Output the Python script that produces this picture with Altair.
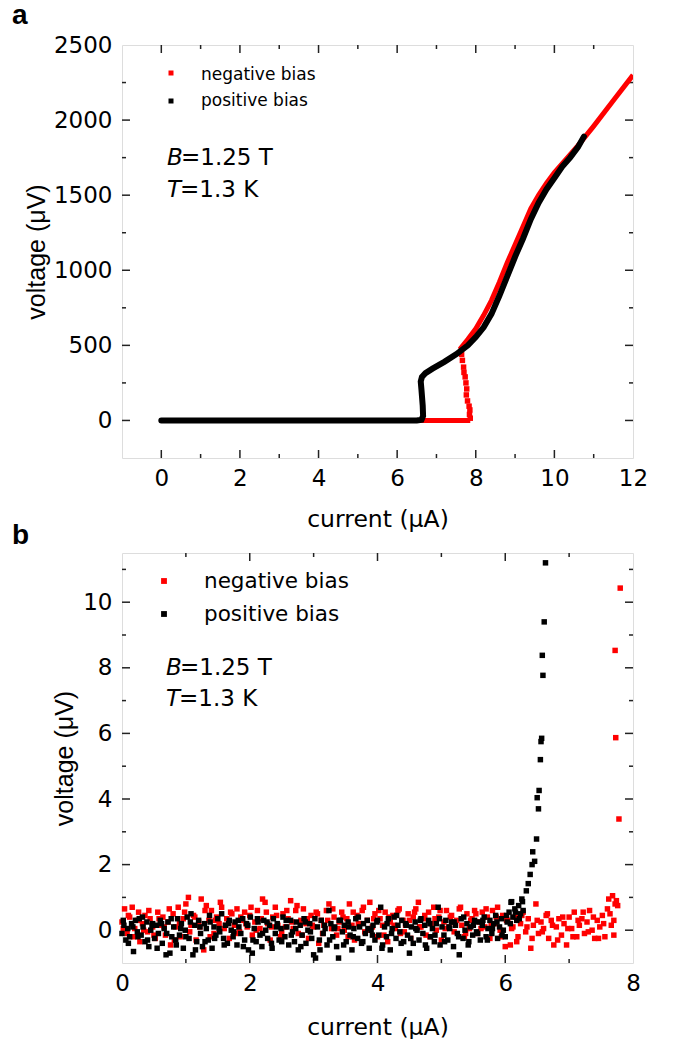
import altair as alt
import pandas as pd

FONT = "DejaVu Sans"
FONT_Y = "Liberation Sans"
RED = "#ff0000"
BLACK = "#000000"
FRAME = "#222222"

# ---------------- panel a data ----------------
a_neg_flat_x = [0.0, 7.86]
a_neg_flat_y = [0, 0]
a_neg_jump_x = [7.63, 7.64, 7.66, 7.69, 7.70, 7.73, 7.75, 7.77, 7.76, 7.79, 7.83, 7.85, 7.84, 7.86]
a_neg_jump_y = [470, 440, 400, 355, 320, 290, 250, 210, 170, 130, 95, 70, 40, 15]
a_neg_curve_x = [7.60, 7.80, 8.00, 8.20, 8.40, 8.60, 8.80, 9.00, 9.20, 9.40, 9.60, 9.80,
                 10.00, 10.30, 10.60, 11.00, 11.50, 12.00]
a_neg_curve_y = [475, 540, 610, 700, 800, 920, 1050, 1170, 1290, 1410, 1500, 1580,
                 1650, 1740, 1830, 1960, 2130, 2300]
a_pos_x = [0.0, 6.50, 6.62, 6.66, 6.65, 6.62, 6.60, 6.63, 6.72, 6.90, 7.20, 7.50, 7.80,
           8.00, 8.20, 8.40, 8.60, 8.80, 9.00, 9.20, 9.40, 9.60, 9.80, 10.00, 10.20,
           10.40, 10.60, 10.75]
a_pos_y = [0, 0, 5, 30, 100, 200, 260, 290, 315, 345, 390, 440, 500,
           555, 620, 710, 830, 960, 1090, 1210, 1340, 1450, 1540, 1615, 1690,
           1750, 1820, 1890]

# ---------------- panel b data ----------------
b_pos_x = [0.00, 0.03, 0.06, 0.09, 0.12, 0.15, 0.18, 0.21, 0.24, 0.27, 0.30, 0.33, 0.36, 0.39,
           0.42, 0.45, 0.48, 0.51, 0.54, 0.57, 0.60, 0.63, 0.66, 0.69, 0.72, 0.75, 0.78, 0.81,
           0.84, 0.87, 0.90, 0.93, 0.96, 0.99, 1.02, 1.05, 1.08, 1.11, 1.14, 1.17, 1.20, 1.23,
           1.26, 1.29, 1.32, 1.35, 1.38, 1.41, 1.44, 1.47, 1.50, 1.53, 1.56, 1.59, 1.62, 1.65,
           1.68, 1.71, 1.74, 1.77, 1.80, 1.83, 1.86, 1.89, 1.92, 1.95, 1.98, 2.01, 2.04, 2.07,
           2.10, 2.13, 2.16, 2.19, 2.22, 2.25, 2.28, 2.31, 2.34, 2.37, 2.40, 2.43, 2.46, 2.49,
           2.52, 2.55, 2.58, 2.61, 2.64, 2.67, 2.70, 2.73, 2.76, 2.79, 2.82, 2.85, 2.88, 2.91,
           2.94, 2.97, 3.00, 3.03, 3.06, 3.09, 3.12, 3.15, 3.18, 3.21, 3.24, 3.27, 3.30, 3.33,
           3.36, 3.39, 3.42, 3.45, 3.48, 3.51, 3.54, 3.57, 3.60, 3.63, 3.66, 3.69, 3.72, 3.75,
           3.78, 3.81, 3.84, 3.87, 3.90, 3.93, 3.96, 3.99, 4.02, 4.05, 4.08, 4.11, 4.14, 4.17,
           4.20, 4.23, 4.26, 4.29, 4.32, 4.35, 4.38, 4.41, 4.44, 4.47, 4.50, 4.53, 4.56, 4.59,
           4.62, 4.65, 4.68, 4.71, 4.74, 4.77, 4.80, 4.83, 4.86, 4.89, 4.92, 4.95, 4.98, 5.01,
           5.04, 5.07, 5.10, 5.13, 5.16, 5.19, 5.22, 5.25, 5.28, 5.31, 5.34, 5.37, 5.40, 5.43,
           5.46, 5.49, 5.52, 5.55, 5.58, 5.61, 5.64, 5.67, 5.70, 5.73, 5.76, 5.79, 5.82, 5.85,
           5.88, 5.91, 5.94, 5.97, 6.00, 6.03, 6.06, 6.09, 6.12, 6.15, 6.18, 6.21, 6.24, 6.26,
           6.28, 6.10, 6.27, 6.33, 6.36, 6.39, 6.42, 6.46, 6.43, 6.49, 6.52, 6.50, 6.53, 6.55,
           6.56, 6.57, 6.59, 6.58, 6.61, 6.63]
b_pos_y = [-0.10, 0.15, -0.30, 0.05, -0.20, 0.20, -0.65, 0.30, -0.05, 0.35, -0.15, 0.10, -0.35, 0.25,
           -0.50, 0.00, 0.20, -0.25, 0.15, -0.10, 0.30, -0.40, 0.05, -0.75, 0.25, -0.70, -0.20, 0.10,
           -0.30, 0.35, -0.15, 0.20, -0.55, 0.00, 0.40, -0.25, 0.50, -0.75, 0.15, -0.35, 0.30, -0.10,
           -0.50, 0.20, 0.05, -0.30, 0.25, -0.55, 0.10, -0.15, 0.35, -0.05, 0.50, -0.25, 0.15, -0.40,
           0.30, 0.00, -0.20, 0.25, -0.45, 0.10, -0.10, 0.35, -0.30, 0.20, -0.60, 0.40, -0.70, 0.05,
           -0.35, 0.25, -0.15, -0.50, 0.30, 0.00, -0.25, 0.15, -0.40, 0.35, -0.10, 0.20, -0.30, 0.05,
           0.40, -0.20, 0.10, -0.45, 0.30, -0.05, -0.35, 0.25, -0.60, 0.15, -0.15, 0.35, -0.40, 0.00,
           0.20, -0.25, -0.75, -0.85, 0.10, -0.30, 0.30, -0.10, 0.05, -0.45, 0.60, 0.20, -0.20, 0.10,
           -0.50, -0.85, 0.30, -0.05, 0.15, -0.35, 0.25, -0.15, -0.60, 0.05, 0.35, -0.25, 0.10, -0.40,
           0.20, -0.10, 0.30, -0.55, 0.00, 0.15, -0.30, 0.25, -0.15, 0.70, -0.45, 0.10, -0.20, 0.35,
           -0.60, 0.05, 0.40, -0.25, 0.15, -0.05, 0.30, -0.35, 0.20, -0.15, -0.70, 0.10, -0.40, 0.25,
           0.00, -0.30, 0.35, -0.10, 0.15, -0.55, 0.30, -0.20, 0.05, -0.35, 0.20, 0.70, -0.45, 0.10,
           -0.15, 0.30, -0.30, 0.05, 0.25, -0.50, 0.15, -0.10, -0.75, 0.35, -0.25, 0.00, 0.20, -0.35,
           0.10, -0.15, 0.30, -0.05, 0.25, -0.30, 0.15, 0.40, -0.20, 0.05, 0.30, -0.10, 0.20, 0.45,
           -0.25, 0.10, 0.35, 0.00, -0.20, 0.25, 0.55, 0.85, 0.40, 0.65, 0.30, 0.75, 0.50, 0.95,
           0.60, 0.87, 0.87, 1.20, 1.42, 1.70, 2.00, 2.10, 2.39, 2.78, 3.70, 4.04, 4.26, 5.20,
           5.75, 5.85, 7.77, 8.38, 9.40, 11.20]
b_pos_x2 = [0.02, 0.10, 0.17, 0.25, 0.32, 0.40, 0.47, 0.55, 0.62, 0.70, 0.77, 0.85, 0.92, 1.00,
            1.07, 1.15, 1.22, 1.30, 1.37, 1.45, 1.52, 1.60, 1.67, 1.75, 1.82, 1.90, 1.97, 2.05,
            2.12, 2.20, 2.27, 2.35, 2.42, 2.50, 2.57, 2.65, 2.72, 2.80, 2.87, 2.95, 3.02, 3.10,
            3.17, 3.25, 3.32, 3.40, 3.47, 3.55, 3.62, 3.70, 3.77, 3.85, 3.92, 4.00, 4.07, 4.15,
            4.22, 4.30, 4.37, 4.45, 4.52, 4.60, 4.67, 4.75, 4.82, 4.90, 4.97, 5.05, 5.12, 5.20,
            5.27, 5.35, 5.42, 5.50, 5.57, 5.65, 5.72, 5.80, 5.87, 5.95, 6.02, 6.08, 6.16, 6.22]
b_pos_y2 = [0.30, -0.40, 0.10, -0.20, 0.40, -0.30, 0.15, -0.55, 0.20, -0.10, 0.35, -0.45, 0.05, -0.20,
            0.25, -0.60, 0.10, -0.35, 0.45, -0.25, 0.05, -0.45, 0.20, -0.05, 0.30, -0.50, 0.15, -0.30,
            0.35, -0.10, 0.25, -0.55, 0.10, -0.35, 0.30, -0.15, 0.05, -0.50, 0.25, -0.05, 0.35, -0.60,
            0.15, -0.30, 0.05, 0.30, -0.45, 0.10, -0.20, 0.40, -0.35, 0.05, -0.15, 0.30, -0.55, 0.20,
            -0.10, 0.45, -0.40, 0.15, -0.25, 0.05, 0.30, -0.45, 0.20, -0.15, 0.35, -0.35, 0.10, 0.25,
            -0.20, 0.40, -0.45, 0.15, -0.10, 0.30, -0.30, 0.05, 0.25, -0.15, 0.45, 0.20, 0.55, 0.35]

b_neg_x = [0.00, 0.04, 0.08, 0.12, 0.16, 0.20, 0.24, 0.28, 0.32, 0.36, 0.40, 0.44, 0.48, 0.52,
           0.56, 0.60, 0.64, 0.68, 0.72, 0.76, 0.80, 0.84, 0.88, 0.92, 0.96, 1.00, 1.04, 1.08,
           1.12, 1.16, 1.20, 1.24, 1.28, 1.32, 1.36, 1.40, 1.44, 1.48, 1.52, 1.56, 1.60, 1.64,
           1.68, 1.72, 1.76, 1.80, 1.84, 1.88, 1.92, 1.96, 2.00, 2.04, 2.08, 2.12, 2.16, 2.20,
           2.24, 2.28, 2.32, 2.36, 2.40, 2.44, 2.48, 2.52, 2.56, 2.60, 2.64, 2.68, 2.72, 2.76,
           2.80, 2.84, 2.88, 2.92, 2.96, 3.00, 3.04, 3.08, 3.12, 3.16, 3.20, 3.24, 3.28, 3.32,
           3.36, 3.40, 3.44, 3.48, 3.52, 3.56, 3.60, 3.64, 3.68, 3.72, 3.76, 3.80, 3.84, 3.88,
           3.92, 3.96, 4.00, 4.04, 4.08, 4.12, 4.16, 4.20, 4.24, 4.28, 4.32, 4.36, 4.40, 4.44,
           4.48, 4.52, 4.56, 4.60, 4.64, 4.68, 4.72, 4.76, 4.80, 4.84, 4.88, 4.92, 4.96, 5.00,
           5.04, 5.08, 5.12, 5.16, 5.20, 5.24, 5.28, 5.32, 5.36, 5.40, 5.44, 5.48, 5.52, 5.56,
           5.60, 5.64, 5.68, 5.72, 5.76, 5.80, 5.84, 5.88, 5.92, 5.96, 6.00, 6.04, 6.08, 6.12,
           6.16, 6.20, 6.24, 6.28, 6.32, 6.36, 6.40, 6.44, 6.48, 6.52, 6.56, 6.60, 6.64, 6.68,
           6.72, 6.76, 6.80, 6.84, 6.88, 6.92, 6.96, 7.00, 7.04, 7.08, 7.12, 7.16, 7.20, 7.24,
           7.28, 7.32, 7.36, 7.40, 7.44, 7.48, 7.52, 7.56, 7.60, 7.62, 7.66, 7.68, 7.70, 7.72,
           7.74, 7.76, 7.78, 7.72, 7.73, 7.80]
b_neg_y = [0.25, 0.65, -0.10, 0.40, 0.70, 0.05, 0.30, -0.35, 0.20, 0.45, -0.05, 0.35, 0.10, -0.25,
           0.55, 0.15, 0.40, -0.15, 0.25, -0.45, 0.50, 0.10, 0.70, -0.20, 0.35, 0.80, 1.00, 0.15,
           0.45, -0.30, 0.25, 0.95, -0.60, 0.75, 0.30, 0.60, -0.10, 0.40, 0.20, 0.70, 0.05, 0.35,
           -0.25, 0.50, 0.15, 0.65, -0.05, 0.30, 0.55, 0.10, 0.45, -0.15, 0.25, 0.60, 0.05, 0.95,
           0.85, 0.20, -0.30, 0.40, 0.70, 0.15, -0.20, 0.50, 0.10, 0.35, 0.90, 0.05, 0.60, -0.10,
           0.30, 0.65, 0.20, -0.25, 0.45, 0.10, 0.55, -0.40, 0.30, 0.15, 0.60, 0.80, 0.05, 0.40,
           -0.15, 0.25, 0.55, 0.00, 0.35, 0.80, 0.15, -0.30, 0.45, 0.20, 0.60, -0.05, 0.30, 0.85,
           0.10, 0.50, -0.20, 0.35, 0.15, 0.55, -0.35, 0.25, 0.45, 0.05, 0.60, -0.10, 0.30, 0.15,
           0.50, -0.25, 0.40, 0.65, 0.85, 0.10, 0.35, -0.15, 0.55, 0.20, 0.70, 0.00, 0.40, -0.30,
           0.25, 0.60, 0.10, 0.45, -0.05, 0.30, 0.65, 0.15, -0.20, 0.50, 0.05, 0.35, 0.60, -0.10,
           0.25, 0.55, 0.10, 0.40, -0.25, 0.60, 0.20, 0.70, 0.00, 0.45, -0.50, 0.30, -0.45, 0.10,
           0.40, -0.20, 0.20, 0.55, -0.05, 0.35, -0.55, 0.15, 0.80, -0.10, 0.25, 0.05, 0.45, -0.25,
           0.30, -0.45, 0.10, 0.35, -0.15, 0.20, -0.45, 0.40, 0.05, 0.55, -0.20, 0.15, 0.35, -0.10,
           0.25, 0.60, 0.00, -0.25, 0.30, 0.10, 0.45, -0.20, 0.65, 0.95, 0.15, 1.05, -0.15, 0.80,
           0.90, 0.75, 3.39, 8.53, 5.87, 10.43]
b_neg_x2 = [0.02, 0.10, 0.18, 0.26, 0.34, 0.42, 0.50, 0.58, 0.66, 0.74, 0.82, 0.90, 0.98, 1.06,
            1.14, 1.22, 1.30, 1.38, 1.46, 1.54, 1.62, 1.70, 1.78, 1.86, 1.94, 2.02, 2.10, 2.18,
            2.26, 2.34, 2.42, 2.50, 2.58, 2.66, 2.74, 2.82, 2.90, 2.98, 3.06, 3.14, 3.22, 3.30,
            3.38, 3.46, 3.54, 3.62, 3.70, 3.78, 3.86, 3.94, 4.02, 4.10, 4.18, 4.26, 4.34, 4.42,
            4.50, 4.58, 4.66, 4.74, 4.82, 4.90, 4.98, 5.06, 5.14, 5.22, 5.30, 5.38, 5.46, 5.54,
            5.62, 5.70, 5.78, 5.86, 5.94, 6.02, 6.10, 6.18, 6.26, 6.34, 6.42, 6.50, 6.58, 6.66,
            6.74, 6.82, 6.90, 6.98, 7.06, 7.14, 7.22, 7.30, 7.38, 7.46, 7.54, 7.64, 7.70]
b_neg_y2 = [0.05, 0.45, -0.20, 0.55, 0.00, 0.60, -0.15, 0.35, 0.10, 0.65, -0.30, 0.20, 0.55, -0.05,
            0.40, 0.10, 0.60, -0.20, 0.30, 0.85, 0.15, 0.55, -0.10, 0.40, 0.20, 0.70, 0.00, 0.35,
            0.55, 0.10, 0.45, -0.05, 0.60, 0.25, 0.75, -0.15, 0.35, 0.15, 0.50, -0.10, 0.30, 0.65,
            0.05, 0.40, -0.20, 0.55, 0.20, 0.70, 0.00, 0.35, 0.60, -0.15, 0.40, 0.15, 0.65, -0.05,
            0.30, 0.55, 0.10, 0.45, -0.20, 0.35, 0.60, 0.05, 0.40, 0.20, 0.70, -0.10, 0.30, 0.50,
            0.05, 0.65, 0.15, 0.40, -0.20, 0.30, 0.05, -0.35, 0.45, 0.10, -0.25, 0.30, -0.05, 0.50,
            0.15, -0.30, 0.40, 0.05, -0.20, 0.30, 0.55, -0.05, 0.40, -0.25, 0.20, 0.50, 0.30]

# ---------------- geometry / styles ----------------
W = 511
HA = 413
HB = 410
FS_TICK = 23
FS_TITLE = 23.5


def axis_x(title, vals, tpad):
    return alt.Axis(title=title, values=vals, ticks=False, domain=False, grid=False, format="d",
                    labelFlush=False, labelOverlap=False,
                    labelFont=FONT, labelFontSize=FS_TICK, labelColor="black", labelPadding=9,
                    titleFont=FONT, titleFontSize=FS_TITLE, titleFontWeight="normal",
                    titleColor="black", titlePadding=tpad)


def axis_y(title, vals, pad):
    return alt.Axis(title=title, values=vals, ticks=False, domain=False, grid=False, format="d",
                    labelFlush=False, labelOverlap=False,
                    labelFont=FONT, labelFontSize=FS_TICK, labelColor="black", labelPadding=10,
                    titleFont=FONT_Y, titleFontSize=25, titleFontWeight="normal",
                    titleColor="black", titlePadding=pad)


def build_panel(xdom, ydom, xvals, yvals, xminor, yminor, H, xtitle, ytitle, xtpad, ytpad):
    xs = alt.Scale(domain=xdom, nice=False, zero=False)
    ys = alt.Scale(domain=ydom, nice=False, zero=False)
    ax = axis_x(xtitle, xvals, xtpad)
    ay = axis_y(ytitle, yvals, ytpad)

    def X():
        return alt.X("x:Q", scale=xs, axis=ax)

    def Y():
        return alt.Y("y:Q", scale=ys, axis=ay)

    layers = []
    xt = pd.DataFrame({"x": xvals + xminor, "len": [8] * len(xvals) + [4] * len(xminor)})
    yt = pd.DataFrame({"y": yvals + yminor, "len": [8] * len(yvals) + [4] * len(yminor)})
    xt_in = xt[(xt.x > xdom[0]) & (xt.x < xdom[1])]
    yt_in = yt[(yt.y > ydom[0]) & (yt.y < ydom[1])]
    for L in (8, 4):
        dx = xt_in[xt_in.len == L]
        dy = yt_in[yt_in.len == L]
        layers.append(alt.Chart(dx).mark_rule(color=FRAME, strokeWidth=1.5).encode(
            x=X(), y=alt.value(H), y2=alt.value(H - L)))
        layers.append(alt.Chart(dx).mark_rule(color=FRAME, strokeWidth=1.5).encode(
            x=X(), y=alt.value(0), y2=alt.value(L)))
        layers.append(alt.Chart(dy).mark_rule(color=FRAME, strokeWidth=1.5).encode(
            y=Y(), x=alt.value(0), x2=alt.value(L)))
        layers.append(alt.Chart(dy).mark_rule(color=FRAME, strokeWidth=1.5).encode(
            y=Y(), x=alt.value(W), x2=alt.value(W - L)))
    return X, Y, layers


def text_layer(items):
    out = []
    for (txt, px, py, fs, style, weight, font) in items:
        out.append(alt.Chart(pd.DataFrame({"t": [txt]})).mark_text(
            font=font, fontSize=fs, fontStyle=style, fontWeight=weight, color="black",
            align="left", baseline="middle").encode(
            x=alt.value(px), y=alt.value(py), text="t:N"))
    return out


# ---------------- panel a ----------------
Xa, Ya, ticks_a = build_panel([-1, 12], [-250, 2500], [0, 2, 4, 6, 8, 10, 12],
                              [0, 500, 1000, 1500, 2000, 2500], [1, 3, 5, 7, 9, 11],
                              [250, 750, 1250, 1750, 2250], HA, "current (μA)", "voltage (μV)",
                              17, 4)

neg_lines = pd.DataFrame({
    "x": a_neg_flat_x + a_neg_curve_x,
    "y": a_neg_flat_y + a_neg_curve_y,
    "seg": ["flat"] * len(a_neg_flat_x) + ["curve"] * len(a_neg_curve_x),
    "i": list(range(len(a_neg_flat_x))) + list(range(len(a_neg_curve_x))),
})
neg_jump = pd.DataFrame({"x": a_neg_jump_x, "y": a_neg_jump_y})
pos_line = pd.DataFrame({"x": a_pos_x, "y": a_pos_y, "i": list(range(len(a_pos_x)))})

a_red_line = alt.Chart(neg_lines).mark_line(color=RED, strokeWidth=5, clip=True).encode(
    x=Xa(), y=Ya(), detail="seg:N", order="i:Q")
a_red_pts = alt.Chart(neg_jump).mark_square(color=RED, size=30, opacity=1).encode(x=Xa(), y=Ya())
a_black_line = alt.Chart(pos_line).mark_line(color=BLACK, strokeWidth=6, strokeCap="round").encode(
    x=Xa(), y=Ya(), order="i:Q")

a_leg = [
    alt.Chart(pd.DataFrame({"k": ["negative bias"]})).mark_square(color=RED, size=25, opacity=1).encode(
        x=alt.value(49), y=alt.value(28)),
    alt.Chart(pd.DataFrame({"k": ["positive bias"]})).mark_square(color=BLACK, size=25, opacity=1).encode(
        x=alt.value(49), y=alt.value(56)),
]
a_txt = text_layer([
    ("negative bias", 79, 30, 17, "normal", "normal", FONT),
    ("positive bias", 79, 56, 17, "normal", "normal", FONT),
    ("B", 45, 112.5, 23, "italic", "normal", FONT),
    ("=1.25 T", 59, 112.5, 23, "normal", "normal", FONT),
    ("T", 45, 145, 23, "italic", "normal", FONT),
    ("=1.3 K", 58, 145, 23, "normal", "normal", FONT),
    ("a", -110, -29.5, 28, "normal", "bold", "Liberation Sans"),
    ("b", -110, 490.5, 28, "normal", "bold", "Liberation Sans"),
])

panel_a = alt.layer(*ticks_a, a_red_line, a_red_pts, a_black_line, *a_leg, *a_txt).properties(
    width=W, height=HA)

# ---------------- panel b ----------------
Xb, Yb, ticks_b = build_panel([0, 8], [-1, 11.5], [0, 2, 4, 6, 8], [0, 2, 4, 6, 8, 10],
                              [1, 3, 5, 7], [1, 3, 5, 7, 9, 11], HB, "current (μA)",
                              "voltage (μV)", 20, 5)

b_neg = pd.DataFrame({"x": b_neg_x + b_neg_x2, "y": b_neg_y + b_neg_y2})
b_pos = pd.DataFrame({"x": b_pos_x + b_pos_x2, "y": b_pos_y + b_pos_y2})
b_red = alt.Chart(b_neg).mark_square(color=RED, size=30, opacity=1).encode(x=Xb(), y=Yb())
b_black = alt.Chart(b_pos).mark_square(color=BLACK, size=30, opacity=1).encode(x=Xb(), y=Yb())

b_leg = [
    alt.Chart(pd.DataFrame({"k": ["negative bias"]})).mark_square(color=RED, size=34, opacity=1).encode(
        x=alt.value(42), y=alt.value(28)),
    alt.Chart(pd.DataFrame({"k": ["positive bias"]})).mark_square(color=BLACK, size=34, opacity=1).encode(
        x=alt.value(42), y=alt.value(61)),
]
b_txt = text_layer([
    ("negative bias", 82, 29, 21.5, "normal", "normal", FONT),
    ("positive bias", 82, 62, 21.5, "normal", "normal", FONT),
    ("B", 44, 115, 23, "italic", "normal", FONT),
    ("=1.25 T", 58, 115, 23, "normal", "normal", FONT),
    ("T", 44, 146, 23, "italic", "normal", FONT),
    ("=1.3 K", 57, 146, 23, "normal", "normal", FONT),
])

panel_b = alt.layer(*ticks_b, b_red, b_black, *b_leg, *b_txt).properties(width=W, height=HB)

chart = alt.vconcat(panel_a, panel_b, spacing=1).properties(
    padding={"left": 3, "top": -7, "right": 0, "bottom": 0}).configure_view(
    stroke=FRAME, strokeWidth=1.5).configure(background="white")

chart.save("out.html", embed_options={"renderer": "svg", "actions": False})
